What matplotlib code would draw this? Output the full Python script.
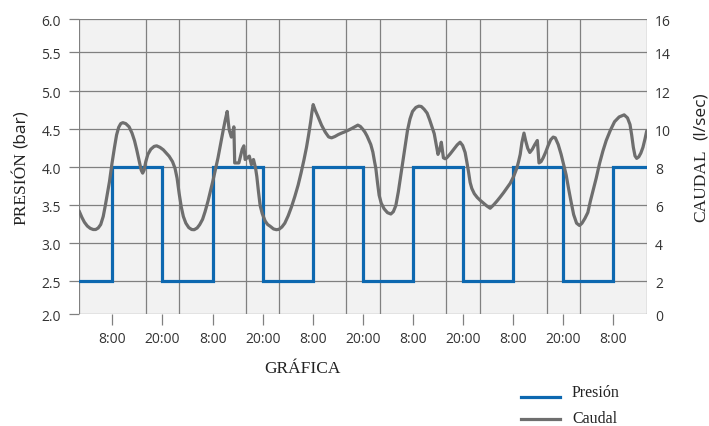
import numpy as np
import matplotlib
matplotlib.use("Agg")
import matplotlib.pyplot as plt
from matplotlib.lines import Line2D

# datos
step_hours = [0, 8, 20, 32, 44, 56, 68, 80, 92, 104, 116, 128, 136]
presion = [2.5, 4.0, 2.5, 4.0, 2.5, 4.0, 2.5, 4.0, 2.5, 4.0, 2.5, 4.0, 4.0]

caudal_pts = [
    (0.0, 5.7), (0.7, 5.35), (1.3, 5.1), (2.0, 4.9), (2.7, 4.78), (3.4, 4.72), (4.0, 4.72),
    (4.6, 4.8), (5.2, 4.98), (5.8, 5.4), (6.3, 5.97), (6.8, 6.6), (7.3, 7.24), (7.9, 8.2),
    (8.5, 9.05), (9.0, 9.7), (9.5, 10.1), (10.0, 10.3), (10.5, 10.35), (11.2, 10.3),
    (12.0, 10.13), (12.7, 9.8), (13.3, 9.4), (13.8, 8.95), (14.4, 8.35), (14.9, 7.85),
    (15.25, 7.69), (15.6, 7.85), (16.0, 8.3), (16.5, 8.68), (17.2, 8.95), (18.0, 9.1),
    (18.6, 9.13), (19.4, 9.05), (20.2, 8.92), (20.9, 8.75), (21.6, 8.58), (22.4, 8.3),
    (23.0, 7.95), (23.5, 7.42), (24.0, 6.6), (24.5, 5.9), (25.0, 5.4), (25.6, 5.05),
    (26.3, 4.82), (27.0, 4.72), (27.6, 4.71), (28.3, 4.8), (28.9, 4.97), (29.6, 5.25),
    (30.2, 5.65), (30.9, 6.2), (31.5, 6.75), (32.1, 7.3), (32.7, 7.9), (33.3, 8.5),
    (33.9, 9.2), (34.5, 9.9), (35.0, 10.45), (35.5, 10.94), (35.8, 10.3), (36.0, 9.95),
    (36.5, 9.59), (36.8, 9.8), (37.1, 10.13), (37.3, 8.23), (38.3, 8.23), (39.1, 8.95),
    (39.5, 9.13), (39.8, 8.41), (40.8, 8.59), (41.3, 8.14), (41.8, 8.41), (42.3, 7.95),
    (42.6, 7.51), (43.0, 6.7), (43.4, 5.97), (43.9, 5.55), (44.6, 5.16), (45.2, 4.98),
    (45.8, 4.89), (46.6, 4.75), (47.3, 4.71), (47.9, 4.73), (48.6, 4.85), (49.3, 5.05),
    (50.1, 5.43), (50.9, 5.9), (51.7, 6.45), (52.5, 7.06), (53.2, 7.7), (53.9, 8.4),
    (54.5, 9.05), (55.0, 9.7), (55.5, 10.4), (55.8, 10.9), (56.1, 11.3), (56.6, 11.0),
    (57.2, 10.7), (58.1, 10.22), (59.0, 9.85), (59.8, 9.6), (60.5, 9.55), (61.3, 9.62),
    (62.1, 9.72), (62.9, 9.8), (63.6, 9.86), (64.5, 9.95), (65.4, 10.05), (66.2, 10.15),
    (66.8, 10.22), (67.4, 10.15), (68.0, 10.0), (68.5, 9.85), (69.0, 9.65), (69.5, 9.4),
    (69.9, 9.2), (70.4, 8.8), (70.8, 8.3), (71.1, 7.96), (71.5, 7.2), (71.9, 6.52),
    (72.4, 6.1), (73.1, 5.8), (73.9, 5.6), (74.7, 5.53), (75.3, 5.65), (75.9, 5.97),
    (76.5, 6.7), (77.1, 7.6), (77.9, 8.8), (78.7, 9.95), (79.3, 10.55), (79.9, 10.94),
    (80.7, 11.15), (81.4, 11.22), (82.0, 11.2), (82.7, 11.05), (83.4, 10.85), (84.0, 10.5),
    (84.6, 10.1), (85.1, 9.77), (85.6, 9.15), (86.0, 8.68), (86.4, 8.9), (86.8, 9.32),
    (87.3, 8.5), (87.7, 8.45), (88.1, 8.5), (88.9, 8.7), (89.8, 8.95), (90.6, 9.18),
    (91.3, 9.32), (91.9, 9.15), (92.5, 8.78), (92.9, 8.3), (93.3, 7.78), (93.7, 7.2),
    (94.1, 6.88), (94.7, 6.6), (95.4, 6.4), (96.1, 6.25), (96.9, 6.1), (97.7, 5.95),
    (98.5, 5.83), (99.3, 6.0), (100.1, 6.2), (100.9, 6.42), (101.7, 6.65), (102.5, 6.9),
    (103.3, 7.15), (104.1, 7.5), (104.9, 7.96), (105.3, 8.3), (105.7, 8.68), (106.1, 9.3),
    (106.6, 9.8), (107.0, 9.4), (107.5, 9.0), (108.0, 8.78), (108.6, 8.95), (109.2, 9.2),
    (109.8, 9.41), (110.2, 8.23), (110.7, 8.3), (111.2, 8.5), (111.8, 8.8), (112.4, 9.15),
    (113.0, 9.45), (113.6, 9.59), (114.1, 9.55), (114.8, 9.2), (115.5, 8.68), (116.1, 8.15),
    (116.7, 7.6), (117.3, 6.85), (117.9, 6.15), (118.5, 5.5), (119.2, 5.05), (119.9, 4.93),
    (120.5, 5.05), (121.2, 5.3), (121.9, 5.61), (122.5, 6.2), (123.2, 6.8), (123.9, 7.42),
    (124.7, 8.2), (125.5, 8.85), (126.3, 9.41), (127.3, 9.95), (128.3, 10.4), (129.4, 10.65),
    (130.6, 10.76), (131.4, 10.6), (132.0, 10.25), (132.4, 9.7), (132.8, 9.05), (133.2, 8.6),
    (133.6, 8.47), (134.1, 8.55), (134.6, 8.75), (135.1, 9.05), (135.6, 9.5), (136.0, 9.91),
]
caudal_hours = [p[0] for p in caudal_pts]
caudal = [p[1] for p in caudal_pts]

tick_hours = [8, 20, 32, 44, 56, 68, 80, 92, 104, 116, 128]
tick_labels = ["8:00", "20:00"] * 5 + ["8:00"]
grid_hours = np.arange(0, 137, 8)
presion_ticks = np.arange(2.0, 6.01, 0.5)
caudal_ticks = np.arange(0, 17, 2)
# altura relativa de cada línea de la rejilla (la de abajo y la de arriba son más estrechas)
row_pos = np.array([0, 33, 71, 109.3, 147, 185, 223, 262, 295.3])

W, H = 709, 427
grid_c = "#808080"
blue = "#0d68b0"
gray = "#6e6e6e"
txt = "#333333"
serif = "Liberation Serif"
sans = "Open Sans"


def make_scale(ticks):
    fwd = lambda v: np.interp(v, ticks, row_pos)
    inv = lambda p: np.interp(p, row_pos, ticks)
    return fwd, inv


fig = plt.figure(figsize=(W / 100, H / 100), dpi=100)
ax = fig.add_axes([79 / W, 1 - 315.3 / H, (646.7 - 79) / W, (315.3 - 20) / H])
ax.set_facecolor("#f2f2f2")
ax.set_yscale("function", functions=make_scale(presion_ticks))

ax.step(step_hours, presion, where="post", color=blue, lw=2.3,
        solid_joinstyle="miter")
ax.set_xlim(0, 136)
ax.set_ylim(2, 6)

ax.set_xticks(tick_hours)
ax.set_xticklabels(tick_labels)
ax.set_xticks(grid_hours, minor=True)
ax.set_yticks(presion_ticks)
ax.set_yticklabels([f"{v:.1f}" for v in presion_ticks])
ax.set_yticks([], minor=True)

ax.grid(axis="y", which="major", color=grid_c, lw=0.9)
ax.grid(axis="x", which="minor", color=grid_c, lw=0.9)
ax.set_axisbelow(True)
for s in ax.spines.values():
    s.set_visible(False)

ax.tick_params(axis="x", which="major", length=8, width=0.9, color=grid_c,
               labelsize=10, labelcolor=txt, pad=4)
ax.tick_params(axis="x", which="minor", length=0)
ax.tick_params(axis="y", length=7, width=0.9, color=grid_c, labelsize=10,
               labelcolor=txt, pad=6)
for lab in ax.get_xticklabels() + ax.get_yticklabels():
    lab.set_fontfamily(sans)

ax2 = ax.twinx()
ax2.grid(False, which="both")
ax2.xaxis.set_visible(False)
ax2.set_yscale("function", functions=make_scale(caudal_ticks))
ax2.plot(caudal_hours, caudal, color=gray, lw=2.3, solid_joinstyle="round",
         solid_capstyle="round")
ax2.set_ylim(0, 16)
ax2.set_yticks(caudal_ticks)
ax2.set_yticklabels([str(v) for v in caudal_ticks])
ax2.set_yticks([], minor=True)
ax2.tick_params(axis="y", length=0, labelsize=10, labelcolor=txt, pad=6)
for lab in ax2.get_yticklabels():
    lab.set_fontfamily(sans)
for s in ax2.spines.values():
    s.set_visible(False)

# etiquetas de ejes (serif + sans)
def ftext(x, y, s, fam):
    fig.text(x / W, 1 - y / H, s, family=fam, fontsize=12.5, color="#222222",
             rotation=90, rotation_mode="anchor", ha="left", va="baseline")

ftext(25, 225, "PRESIÓN", serif)
ftext(25, 148, "(bar)", sans)
ftext(705, 222, "CAUDAL", serif)
ftext(705, 140, "(l/sec)", sans)

fig.text(302 / W, 1 - 369 / H, "GRÁFICA", family=serif, fontsize=12.5,
         color="#222222", ha="center", va="center")

# leyenda
for (yl, yt, col, name) in [(398, 397, blue, "Presión"), (420, 423, gray, "Caudal")]:
    fig.add_artist(Line2D([521 / W, 560 / W], [1 - yl / H, 1 - yl / H], color=col,
                          lw=2.3, transform=fig.transFigure))
    fig.text(572 / W, 1 - yt / H, name, family=serif, fontsize=11.5,
             color="#222222", ha="left", va="baseline")

fig.savefig("out.png", dpi=100)
